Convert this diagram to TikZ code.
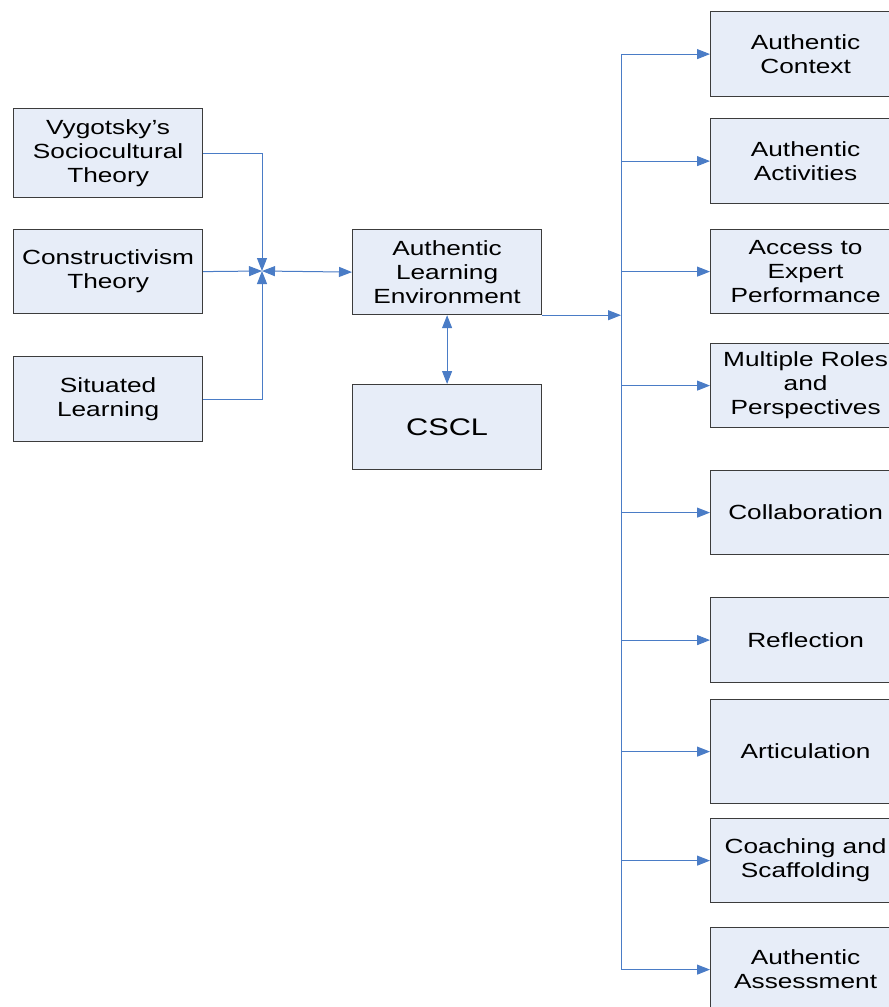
\documentclass[tikz,border=0pt]{standalone}
\usepackage{fontspec}
\setmainfont{Liberation Sans}[FakeStretch=1.28]
\usetikzlibrary{arrows.meta}
\definecolor{boxfill}{HTML}{E7EDF8}
\definecolor{boxline}{HTML}{3C3C3C}
\definecolor{link}{HTML}{4A7CC6}
\begin{document}
\begin{tikzpicture}[x=1pt,y=-1pt,
  box/.style={draw=boxline, line width=1.2pt, fill=boxfill, anchor=north west,
    minimum width=189pt, inner sep=0pt, align=center,
    font=\fontsize{20.5}{24}\selectfont},
  conn/.style={draw=link, line width=1pt},
  tip/.style={-{Triangle[length=13pt,width=10pt]}},
  tips/.style={{Triangle[length=13pt,width=10pt]}-{Triangle[length=13pt,width=10pt]}}]
\useasboundingbox (0,0) rectangle (889,1007);
\clip (0,0) rectangle (889,1007);
\fill[white] (0,0) rectangle (889,1007);

% theories feeding the learning environment
\node[box, minimum height=89pt] (vyg) at (13,108) {Vygotsky’s\\Sociocultural\\Theory};
\node[box, minimum height=84pt] (con) at (13,229) {Constructivism\\Theory};
\node[box, minimum height=85pt] (sit) at (13,356) {Situated\\Learning};

% centre
\node[box, minimum height=85pt] (ale) at (352,229) {Authentic\\Learning\\Environment};
\node[box, minimum height=85pt, font=\fontsize{24}{28}\selectfont] (cscl) at (352,384) {CSCL};

% elements of authentic learning
\node[box, minimum width=190pt, minimum height=85pt] (ctx) at (710,11) {Authentic\\Context};
\node[box, minimum width=190pt, minimum height=85pt] (act) at (710,118) {Authentic\\Activities};
\node[box, minimum width=190pt, minimum height=84pt] (acc) at (710,229) {Access to\\Expert\\Performance};
\node[box, minimum width=190pt, minimum height=84pt] (mul) at (710,343) {Multiple Roles\\and\\Perspectives};
\node[box, minimum width=190pt, minimum height=84pt] (col) at (710,470) {Collaboration};
\node[box, minimum width=190pt, minimum height=85pt] (ref) at (710,597) {Reflection};
\node[box, minimum width=190pt, minimum height=104pt] (art) at (710,699) {Articulation};
\node[box, minimum width=190pt, minimum height=84pt] (coa) at (710,818) {Coaching and\\Scaffolding};
\node[box, minimum width=190pt, minimum height=84pt] (ass) at (710,927) {Authentic\\Assessment};

% junction of the three theories
\coordinate (J) at (262,271);
\draw[conn, tip] (vyg.east) -| (J);
\draw[conn, tip] (con.east) -- (J);
\draw[conn, tip] (sit.east) -| (J);
\draw[conn, tips] (J) -- (ale.west);
\draw[conn, tips] (ale.south) -- (cscl.north);

% distribution trunk
\coordinate (trunk) at (621,0);
\draw[conn, tip] (ale.south east) -- (ale.south east -| trunk);
\draw[conn] (trunk |- ctx.west) -- (trunk |- ass.west);
\foreach \n in {ctx,act,acc,mul,col,ref,art,coa,ass}
  \draw[conn, tip] (trunk |- \n.west) -- (\n.west);
\end{tikzpicture}
\end{document}
